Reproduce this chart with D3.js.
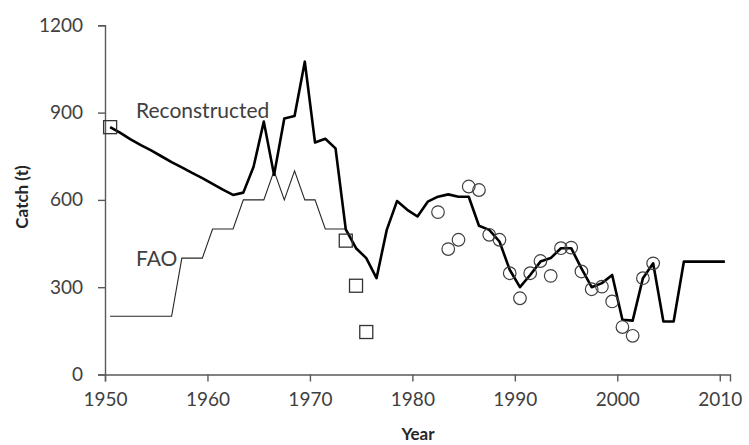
<!DOCTYPE html>
<html>
<head>
<meta charset="utf-8">
<script src="https://cdn.jsdelivr.net/npm/d3@7"></script>
<style>
  html, body { margin: 0; padding: 0; background: #fff; }
  svg { display: block; }
  text { font-family: Lato, "Open Sans", sans-serif; }
</style>
</head>
<body>
<svg id="chart" width="749" height="445"></svg>
<script>
// ---- Data ----
const reconYears = d3.range(1950, 2011);
const reconValues = [
  850, 830, 808, 788, 770, 750, 730, 712, 693, 675, 655, 635, 617,   // 1950-1962
  625, 714, 869, 686, 880, 888, 1075, 797, 810, 777,                 // 1963-1972
  499, 434, 400, 331, 497, 596, 566, 543, 594, 611,                  // 1973-1982
  619, 611, 611, 511, 497, 457, 360, 300, 342, 388,                  // 1983-1992
  400, 434, 434, 365, 300, 314, 342, 188, 185, 331,                  // 1993-2002
  382, 182, 182, 388, 388, 388, 388, 388                             // 2003-2010
];
const faoYears = d3.range(1950, 1974);
const faoValues = [
  200, 200, 200, 200, 200, 200, 200,   // 1950-1956
  400, 400, 400,                       // 1957-1959
  500, 500, 500,                       // 1960-1962
  600, 600, 600,                       // 1963-1965
  700, 600, 700, 600, 600,             // 1966-1970
  500, 500, 500                        // 1971-1973
];
const squareYears = [1950, 1973, 1974, 1975];
const squareValues = [850, 460, 305, 146];
const circleYears = d3.range(1982, 2004);
const circleValues = [
  558, 431, 463, 646, 634, 480, 463, 348, 262, 348,   // 1982-1991
  390, 339, 434, 436, 354, 293, 302, 251, 163, 133,   // 1992-2001
  331, 382                                            // 2002-2003
];
const xTicks = [1950, 1960, 1970, 1980, 1990, 2000, 2010];
const yTicks = [0, 300, 600, 900, 1200];
const seriesLabels = { recon: "Reconstructed", fao: "FAO" };

// ---- Scales ----
const svg = d3.select("#chart");
const x = d3.scaleLinear().domain([1950, 2011]).range([105, 730]);
const y = d3.scaleLinear().domain([0, 1200]).range([374.5, 25.3]);
const px = yr => x(yr + 0.5);   // points centred between category ticks

const textColor = "#404040";
const axisColor = "#595959";

// ---- Axes ----
const xAxis = svg.append("g")
  .attr("transform", `translate(0,${y(0)})`)
  .call(d3.axisBottom(x).tickValues(xTicks).tickFormat(d3.format("d")).tickSizeOuter(0).tickSize(7).tickPadding(11));
const yAxis = svg.append("g")
  .attr("transform", `translate(${x(1950)},0)`)
  .call(d3.axisLeft(y).tickValues(yTicks).tickFormat(d3.format("d")).tickSizeOuter(0).tickSize(7).tickPadding(15));

[xAxis, yAxis].forEach(g => {
  g.selectAll("path.domain").attr("stroke", axisColor).attr("stroke-width", 1.4);
  g.selectAll(".tick line").attr("stroke", axisColor).attr("stroke-width", 1.4);
  g.selectAll(".tick text").attr("fill", textColor).style("font-size", "19px");
});

// Axis titles
svg.append("text")
  .attr("x", 418).attr("y", 440)
  .attr("text-anchor", "middle")
  .attr("fill", "#262626")
  .style("font-size", "17px").style("font-weight", "bold")
  .text("Year");
svg.append("text")
  .attr("transform", `translate(28,197) rotate(-90)`)
  .attr("text-anchor", "middle")
  .attr("fill", "#262626")
  .style("font-size", "17px").style("font-weight", "bold")
  .text("Catch (t)");

// ---- Lines ----
const line = d3.line().x(d => px(d[0])).y(d => y(d[1]));

svg.append("path")
  .datum(faoYears.map((yr, i) => [yr, faoValues[i]]))
  .attr("d", line)
  .attr("fill", "none")
  .attr("stroke", "#262626")
  .attr("stroke-width", 1.1);

svg.append("path")
  .datum(reconYears.map((yr, i) => [yr, reconValues[i]]))
  .attr("d", line)
  .attr("fill", "none")
  .attr("stroke", "#000")
  .attr("stroke-width", 2.6)
  .attr("stroke-linejoin", "round");

// ---- Markers ----
const sq = 13;
svg.append("g").selectAll("rect")
  .data(squareYears.map((yr, i) => [yr, squareValues[i]]))
  .join("rect")
  .attr("x", d => px(d[0]) - sq / 2)
  .attr("y", d => y(d[1]) - sq / 2)
  .attr("width", sq).attr("height", sq)
  .attr("fill", "none")
  .attr("stroke", "#333")
  .attr("stroke-width", 1.3);

svg.append("g").selectAll("circle")
  .data(circleYears.map((yr, i) => [yr, circleValues[i]]))
  .join("circle")
  .attr("cx", d => px(d[0]))
  .attr("cy", d => y(d[1]))
  .attr("r", 6.3)
  .attr("fill", "none")
  .attr("stroke", "#404040")
  .attr("stroke-width", 1.2);

// ---- Series labels ----
svg.append("text")
  .attr("x", 136).attr("y", 118)
  .attr("fill", textColor)
  .style("font-size", "21px")
  .text(seriesLabels.recon);
svg.append("text")
  .attr("x", 136).attr("y", 266)
  .attr("fill", textColor)
  .style("font-size", "21px")
  .text(seriesLabels.fao);
</script>
</body>
</html>
